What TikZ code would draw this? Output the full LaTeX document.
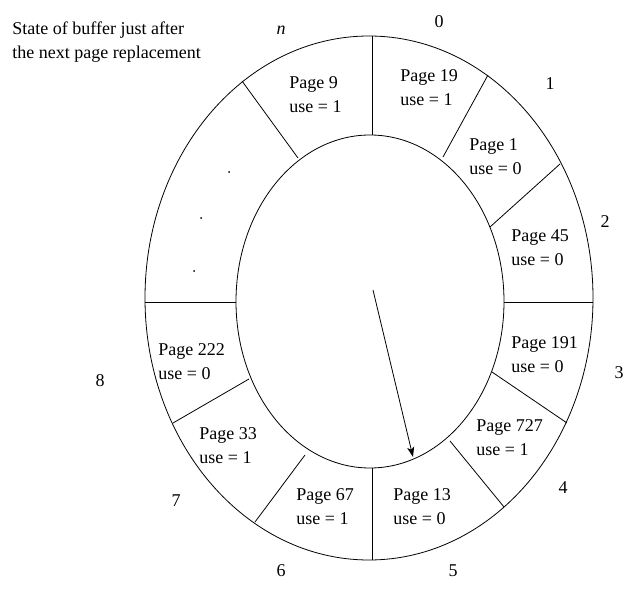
\documentclass[tikz,border=0pt]{standalone}
\usepackage{fontspec}
\setmainfont{Liberation Serif}
\usetikzlibrary{arrows.meta}
\begin{document}
\begin{tikzpicture}[x=1pt,y=-1pt,line width=0.8pt,
    pagelbl/.style={anchor=west,align=left,inner sep=0pt,font=\fontsize{18}{24}\selectfont},
    slotnum/.style={inner sep=0pt,font=\fontsize{18}{24}\selectfont}]
    \useasboundingbox (0,0) rectangle (638,591);
    % rings
    \draw (369,298) ellipse [x radius=224pt, y radius=262pt];
    \draw (370,301.5) ellipse [x radius=134pt, y radius=166.5pt];
    % frame dividers
    \draw (372,36) -- (372,135);
    \draw (488,75) -- (443,157);
    \draw (560,164) -- (490,227);
    \draw (504,302) -- (593,302);
    \draw (492,372) -- (567,423);
    \draw (450,441) -- (504,507);
    \draw (372,468) -- (372,560);
    \draw (305,455) -- (255,522);
    \draw (249,379) -- (173,423);
    \draw (145,302) -- (236,302);
    \draw (298,158) -- (242,81);
    % frames
    \node[pagelbl] (p9) at (289,95) {Page 9\\use = 1};
    \node[pagelbl] (p19) at (400,88) {Page 19\\use = 1};
    \node[pagelbl] (p1) at (469,157) {Page 1\\use = 0};
    \node[pagelbl] (p45) at (511,248) {Page 45\\use = 0};
    \node[pagelbl] (p191) at (511,355) {Page 191\\use = 0};
    \node[pagelbl] (p727) at (476,438) {Page 727\\use = 1};
    \node[pagelbl] (p13) at (393,507) {Page 13\\use = 0};
    \node[pagelbl] (p67) at (296,507) {Page 67\\use = 1};
    \node[pagelbl] (p33) at (199,446) {Page 33\\use = 1};
    \node[pagelbl] (p222) at (158,362) {Page 222\\use = 0};
    % missing frames
    \fill (229,172) circle (1);
    \fill (201,218) circle (1);
    \fill (194,271) circle (1);
    % slot numbers
    \node[slotnum] (n0) at (439,22) {0};
    \node[slotnum] (n1) at (550,84) {1};
    \node[slotnum] (n2) at (605,222) {2};
    \node[slotnum] (n3) at (619,373) {3};
    \node[slotnum] (n4) at (563,488) {4};
    \node[slotnum] (n5) at (453,571) {5};
    \node[slotnum] (n6) at (281,571) {6};
    \node[slotnum] (n7) at (176,501) {7};
    \node[slotnum] (n8) at (100,381) {8};
    \node[slotnum] (nn) at (281,30) {\itshape n};
    % title
    \node[pagelbl] (title) at (12,42) {State of buffer just after\\the next page replacement};
    % next frame pointer
    \coordinate (hand) at (373,290);
    \coordinate (tip) at (413,457);
    \draw[-{Stealth[length=10pt,width=7pt,inset=2.5pt]}] (hand) -- (tip);
\end{tikzpicture}
\end{document}
